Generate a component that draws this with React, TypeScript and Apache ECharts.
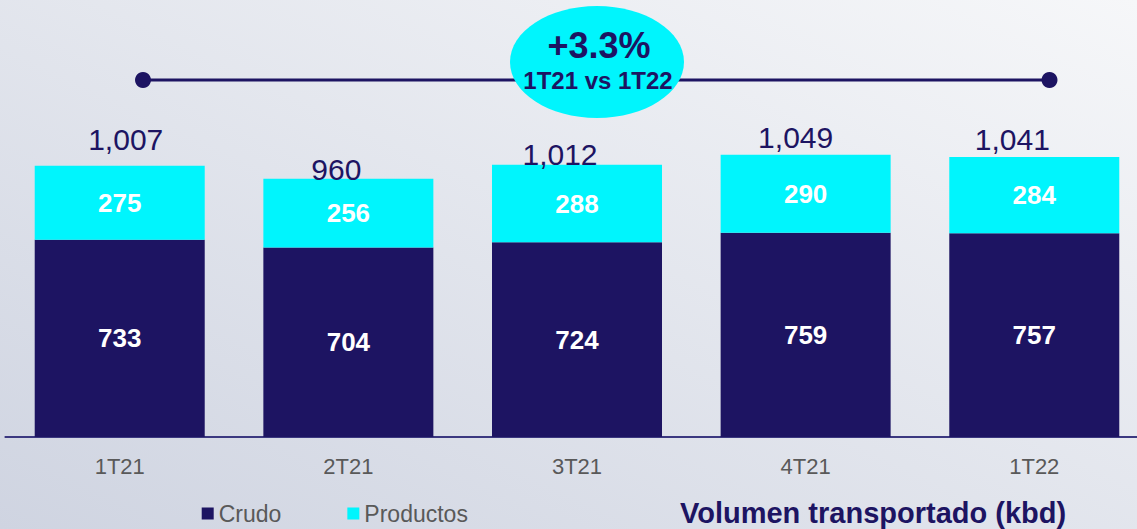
import React, { useEffect, useRef } from "react";
import * as echarts from "echarts";

const categories = ["1T21", "2T21", "3T21", "4T21", "1T22"];
const crudo = [733, 704, 724, 759, 757];
const productos = [275, 256, 288, 290, 284];
const totals = [1007, 960, 1012, 1049, 1041];
const changeLabel = "+3.3%";
const changeSub = "1T21 vs 1T22";
const titleText = "Volumen transportado (kbd)";

// label placement tweaks (style only)
const totalLabelOffsets: [number, number][] = [
  [6, -27],
  [-12, -9],
  [-17, -10],
  [-10, -17],
  [-22, -17],
];

const NAVY = "#1d1462";
const CYAN = "#00f5fd";
const FONT = "'Liberation Sans', Arial, sans-serif";

export default function App() {
  const ref = useRef<HTMLDivElement>(null);
  useEffect(() => {
    if (!ref.current) return;
    const chart = echarts.init(ref.current, null, { renderer: "svg" });
    const option: any = {
      animation: false,
      backgroundColor: new echarts.graphic.LinearGradient(0, 1, 1, 0, [
        { offset: 0, color: "#cfd4e1" },
        { offset: 1, color: "#f6f7f9" },
      ]),
      textStyle: { fontFamily: FONT },
      grid: { left: 5.4, right: -11.6, top: 33.5, bottom: 92, outerBoundsMode: "none" },
      legend: {
        data: ["Crudo", "Productos"],
        left: 201.7,
        top: 502,
        padding: 0,
        icon: "rect",
        itemWidth: 12,
        itemHeight: 12,
        itemGap: 66,
        textStyle: { fontFamily: FONT, fontSize: 23, color: "#595959", padding: [0, 0, 0, 0] },
      },
      xAxis: {
        type: "category",
        data: categories,
        axisTick: { show: false },
        axisLine: { lineStyle: { color: "#3b3880", width: 2 } },
        axisLabel: { color: "#595959", fontSize: 22, fontFamily: FONT, margin: 18 },
      },
      yAxis: { type: "value", min: 0, max: 1500, show: false, splitLine: { show: false } },
      series: [
        {
          name: "Crudo",
          type: "bar",
          stack: "total",
          barWidth: 170,
          data: crudo,
          itemStyle: { color: NAVY },
          label: {
            show: true,
            position: "inside",
            color: "#ffffff",
            fontWeight: "bold",
            fontSize: 26,
            fontFamily: FONT,
          },
        },
        {
          name: "Productos",
          type: "bar",
          stack: "total",
          barWidth: 170,
          data: productos,
          itemStyle: { color: CYAN },
          label: {
            show: true,
            position: "inside",
            color: "#ffffff",
            fontWeight: "bold",
            fontSize: 26,
            fontFamily: FONT,
          },
        },
        {
          name: "Total",
          type: "scatter",
          symbolSize: 1,
          itemStyle: { color: "rgba(0,0,0,0)", opacity: 1 },
          z: 5,
          data: totals.map((v, i) => ({
            value: v,
            label: { offset: totalLabelOffsets[i] },
          })),
          label: {
            show: true,
            position: "inside",
            color: NAVY,
            fontSize: 30,
            fontFamily: FONT,
            formatter: (p: any) => Number(p.value).toLocaleString("en-US"),
          },
        },
      ],
      graphic: [
        {
          type: "line",
          shape: { x1: 143, y1: 80, x2: 1049.5, y2: 80 },
          style: { stroke: NAVY, lineWidth: 3 },
          z: 10,
        },
        { type: "circle", shape: { cx: 143, cy: 80, r: 8 }, style: { fill: NAVY }, z: 10 },
        { type: "circle", shape: { cx: 1049.5, cy: 80, r: 8 }, style: { fill: NAVY }, z: 10 },
        { type: "ellipse", shape: { cx: 597, cy: 62, rx: 87, ry: 56 }, style: { fill: CYAN }, z: 11 },
        {
          type: "text",
          x: 599,
          y: 45,
          z: 12,
          style: {
            text: changeLabel,
            fill: NAVY,
            font: `bold 36px ${FONT}`,
            align: "center",
            verticalAlign: "middle",
          },
        },
        {
          type: "text",
          x: 598,
          y: 80,
          z: 12,
          style: {
            text: changeSub,
            fill: NAVY,
            font: `bold 24px ${FONT}`,
            align: "center",
            verticalAlign: "middle",
          },
        },
        {
          type: "text",
          x: 680,
          y: 513,
          z: 12,
          style: {
            text: titleText,
            fill: NAVY,
            font: `bold 29px ${FONT}`,
            align: "left",
            verticalAlign: "middle",
          },
        },
      ],
    };
    chart.setOption(option);
    return () => chart.dispose();
  }, []);
  return (
    <div
      ref={ref}
      style={{ position: "fixed", left: 0, top: 0, width: 1137, height: 529 }}
    />
  );
}
